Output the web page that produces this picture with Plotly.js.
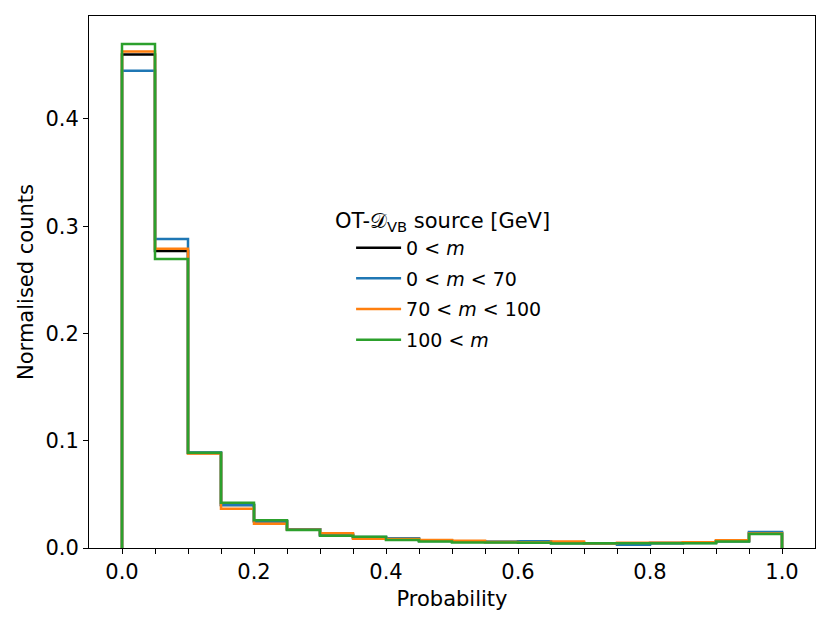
<!DOCTYPE html>
<html>
<head>
<meta charset="utf-8">
<script src="https://cdn.plot.ly/plotly-3.0.1.min.js"></script>
<style>
  html, body { margin: 0; padding: 0; background: #fff; }
  #chart { width: 830px; height: 623px; }
</style>
</head>
<body>
<div id="chart"></div>
<script>
// bin edges, width 0.05
var binEdges = [0.00, 0.05, 0.10, 0.15, 0.20, 0.25, 0.30, 0.35, 0.40, 0.45,
                0.50, 0.55, 0.60, 0.65, 0.70, 0.75, 0.80, 0.85, 0.90, 0.95, 1.00];
var xTickLabels = ['0.0', '', '', '', '0.2', '', '', '', '0.4', '', '', '', '0.6', '', '', '', '0.8', '', '', '', '1.0'];

var allMass  = [0.460, 0.277, 0.0885, 0.0400, 0.0250, 0.0175, 0.0125, 0.0098, 0.0085, 0.0067,
                0.0060, 0.0055, 0.0055, 0.0050, 0.0044, 0.0045, 0.0046, 0.0048, 0.0065, 0.0140];
var lowMass  = [0.445, 0.288, 0.0890, 0.0400, 0.0250, 0.0175, 0.0120, 0.0102, 0.0090, 0.0065,
                0.0058, 0.0058, 0.0062, 0.0045, 0.0044, 0.0030, 0.0044, 0.0046, 0.0062, 0.0150];
var midMass  = [0.463, 0.279, 0.0880, 0.0367, 0.0227, 0.0170, 0.0137, 0.0086, 0.0085, 0.0075,
                0.0068, 0.0055, 0.0052, 0.0060, 0.0044, 0.0050, 0.0050, 0.0053, 0.0072, 0.0135];
var highMass = [0.470, 0.2695, 0.0889, 0.0423, 0.0258, 0.0168, 0.0115, 0.0106, 0.0075, 0.0060,
                0.0052, 0.0052, 0.0050, 0.0042, 0.0044, 0.0044, 0.0044, 0.0044, 0.0060, 0.0130];

var seriesNames  = ['0 &lt; <i>m</i>', '0 &lt; <i>m</i> &lt; 70', '70 &lt; <i>m</i> &lt; 100', '100 &lt; <i>m</i>'];
var seriesColors = ['#000000', '#1f77b4', '#ff7f0e', '#2ca02c'];
var seriesValues = [allMass, lowMass, midMass, highMass];

// outline like matplotlib histtype='step'
function stepTrace(counts, name, color, i) {
  var x = [binEdges[0]];
  var y = [0];
  for (var k = 0; k < counts.length; k++) {
    x.push(binEdges[k]);
    y.push(counts[k]);
  }
  var last = binEdges[binEdges.length - 1];
  x.push(last); y.push(counts[counts.length - 1]);
  x.push(last); y.push(0);
  return {
    x: x, y: y,
    type: 'scatter',
    mode: 'lines',
    line: {shape: 'hv', color: color, width: 2.5},
    name: name,
    legendgroup: 'g' + i
  };
}

var data = [];
for (var i = 0; i < seriesValues.length; i++) {
  data.push(stepTrace(seriesValues[i], seriesNames[i], seriesColors[i], i));
}

var tickFont = {family: 'DejaVu Sans', size: 21, color: '#000'};

var layout = {
  width: 830,
  height: 623,
  margin: {l: 89, r: 15, t: 16, b: 75},
  paper_bgcolor: '#fff',
  plot_bgcolor: '#fff',
  font: {family: 'DejaVu Sans', color: '#000'},
  showlegend: true,
  legend: {
    x: 0.361, y: 0.6, xanchor: 'left', yanchor: 'top',
    bgcolor: 'rgba(255,255,255,0)',
    font: {family: 'DejaVu Sans', size: 19, color: '#000'},
    itemwidth: 45,
    tracegroupgap: 3
  },
  annotations: [{
    text: 'OT-𝒟<sub>VB</sub> source [GeV]',
    xref: 'paper', yref: 'paper',
    x: 0.336, y: 0.613, xanchor: 'left', yanchor: 'middle',
    showarrow: false,
    font: {family: 'DejaVu Sans', size: 21, color: '#000'}
  }],
  xaxis: {
    range: [-0.05, 1.05],
    tickvals: binEdges,
    ticktext: xTickLabels,
    ticks: 'outside', ticklen: 5, tickwidth: 1, tickcolor: '#000',
    showgrid: false, zeroline: false,
    showline: true, mirror: true, linecolor: '#000', linewidth: 1,
    tickfont: tickFont,
    title: {text: 'Probability', font: {family: 'DejaVu Sans', size: 21, color: '#000'}, standoff: 8}
  },
  yaxis: {
    range: [0, 0.496],
    tick0: 0, dtick: 0.1,
    tickformat: '.1f',
    ticks: 'outside', ticklen: 5, tickwidth: 1, tickcolor: '#000',
    showgrid: false, zeroline: false,
    showline: true, mirror: true, linecolor: '#000', linewidth: 1,
    tickfont: tickFont,
    title: {text: 'Normalised counts', font: {family: 'DejaVu Sans', size: 21, color: '#000'}, standoff: 6}
  }
};

Plotly.newPlot('chart', data, layout, {displayModeBar: false, staticPlot: true});
</script>
</body>
</html>
